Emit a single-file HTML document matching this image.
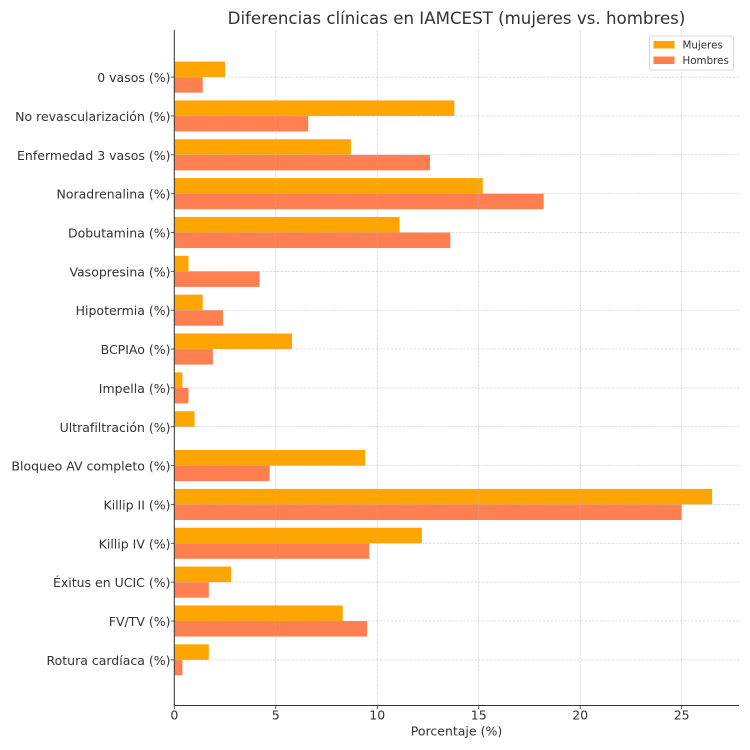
<!DOCTYPE html>
<html lang="es">
<head>
<meta charset="utf-8">
<title>Diferencias clínicas en IAMCEST</title>
<style>
html,body{margin:0;padding:0;background:#fff;width:750px;height:750px;overflow:hidden}
svg{display:block}
text{font-family:"DejaVu Sans","Liberation Sans",sans-serif;fill:#333}
</style>
</head>
<body>
<svg id="chart" width="750" height="750" viewBox="0 0 750 750" xmlns="http://www.w3.org/2000/svg">
<rect width="750" height="750" fill="#fff"/>
<text x="456.5" y="24" font-size="16.65" text-anchor="middle">Diferencias clínicas en IAMCEST (mujeres vs. hombres)</text>
<g id="bars"></g>
<g id="grid"></g>
<g id="axes"></g>
<text x="456.5" y="735.5" font-size="12.5" text-anchor="middle">Porcentaje (%)</text>
<g>
<rect x="649.5" y="36" width="84" height="34" rx="2" fill="#fff" fill-opacity="0.85" stroke="#d8d8d8" stroke-width="1"/>
<g>
<rect x="653.5" y="41" width="21" height="7.5" fill="#ffa500"/>
<text x="682.5" y="48.5" font-size="10.3">Mujeres</text>
</g>
<g>
<rect x="653.5" y="56.5" width="21" height="7.5" fill="#ff7f50"/>
<text x="682.5" y="64" font-size="10.3">Hombres</text>
</g>
</g>
</svg>
<script>
const categories = ["0 vasos (%)","No revascularización (%)","Enfermedad 3 vasos (%)","Noradrenalina (%)","Dobutamina (%)","Vasopresina (%)","Hipotermia (%)","BCPIAo (%)","Impella (%)","Ultrafiltración (%)","Bloqueo AV completo (%)","Killip II (%)","Killip IV (%)","Éxitus en UCIC (%)","FV/TV (%)","Rotura cardíaca (%)"];
const mujeres = [2.5,13.8,8.7,15.2,11.1,0.7,1.4,5.8,0.4,1.0,9.4,26.5,12.2,2.8,8.3,1.7];
const hombres = [1.4,6.6,12.6,18.2,13.6,4.2,2.4,1.9,0.7,0,4.7,25.0,9.6,1.7,9.5,0.4];
const xTicks = [0,5,10,15,20,25];

const NS = "http://www.w3.org/2000/svg";
const plotLeft = 174.3, plotRight = 739, plotTop = 30, plotBottom = 705.5;
const xMax = Math.max(...mujeres, ...hombres) * 1.05;
const firstRowY = 77.1, rowStep = 38.85, barH = 15.54;
const xScale = v => plotLeft + (v / xMax) * (plotRight - plotLeft);
const yScale = i => firstRowY + i * rowStep;

function mk(parent, tag, attrs, txt) {
  const el = document.createElementNS(NS, tag);
  for (const k in attrs) el.setAttribute(k, attrs[k]);
  if (txt !== undefined) el.textContent = txt;
  parent.appendChild(el);
  return el;
}
const barsG = document.getElementById("bars");
const gridG = document.getElementById("grid");
const axesG = document.getElementById("axes");
const gridStyle = {stroke:"#b8b8b8","stroke-width":0.75,"stroke-dasharray":"2.6 1.2","stroke-opacity":0.6};

categories.forEach((c, i) => {
  const y = yScale(i);
  const m = mk(barsG, "rect", {x:plotLeft, y:y - barH, width:xScale(mujeres[i]) - plotLeft, height:barH, fill:"#ffa500"});
  
  
  const h = mk(barsG, "rect", {x:plotLeft, y:y, width:xScale(hombres[i]) - plotLeft, height:barH, fill:"#ff7f50"});
  
  
  const g = mk(gridG, "line", Object.assign({x1:plotLeft, x2:plotRight, y1:y, y2:y}, gridStyle));
  
  
  const t = mk(axesG, "line", {x1:plotLeft - 3.5, x2:plotLeft, y1:y, y2:y, stroke:"#333", "stroke-width":0.8});
  
  
  const l = mk(axesG, "text", {x:plotLeft - 3.8, y:y + 5, "font-size":12.5, "text-anchor":"end"}, c);
  
  
});
xTicks.forEach(v => {
  const x = xScale(v);
  const g = mk(gridG, "line", Object.assign({x1:x, x2:x, y1:plotTop, y2:plotBottom}, gridStyle));
  
  
  const t = mk(axesG, "line", {x1:x, x2:x, y1:plotBottom, y2:plotBottom + 3.5, stroke:"#333", "stroke-width":0.8});
  
  
  const l = mk(axesG, "text", {x:x, y:719.5, "font-size":12.5, "text-anchor":"middle"}, String(v));
  
  
});
const ya = mk(axesG, "line", {x1:plotLeft, x2:plotLeft, y1:plotTop, y2:plotBottom + 0.5, stroke:"#333", "stroke-width":1});


const xa = mk(axesG, "line", {x1:plotLeft - 0.5, x2:plotRight, y1:plotBottom, y2:plotBottom, stroke:"#333", "stroke-width":1});


</script>
</body>
</html>
